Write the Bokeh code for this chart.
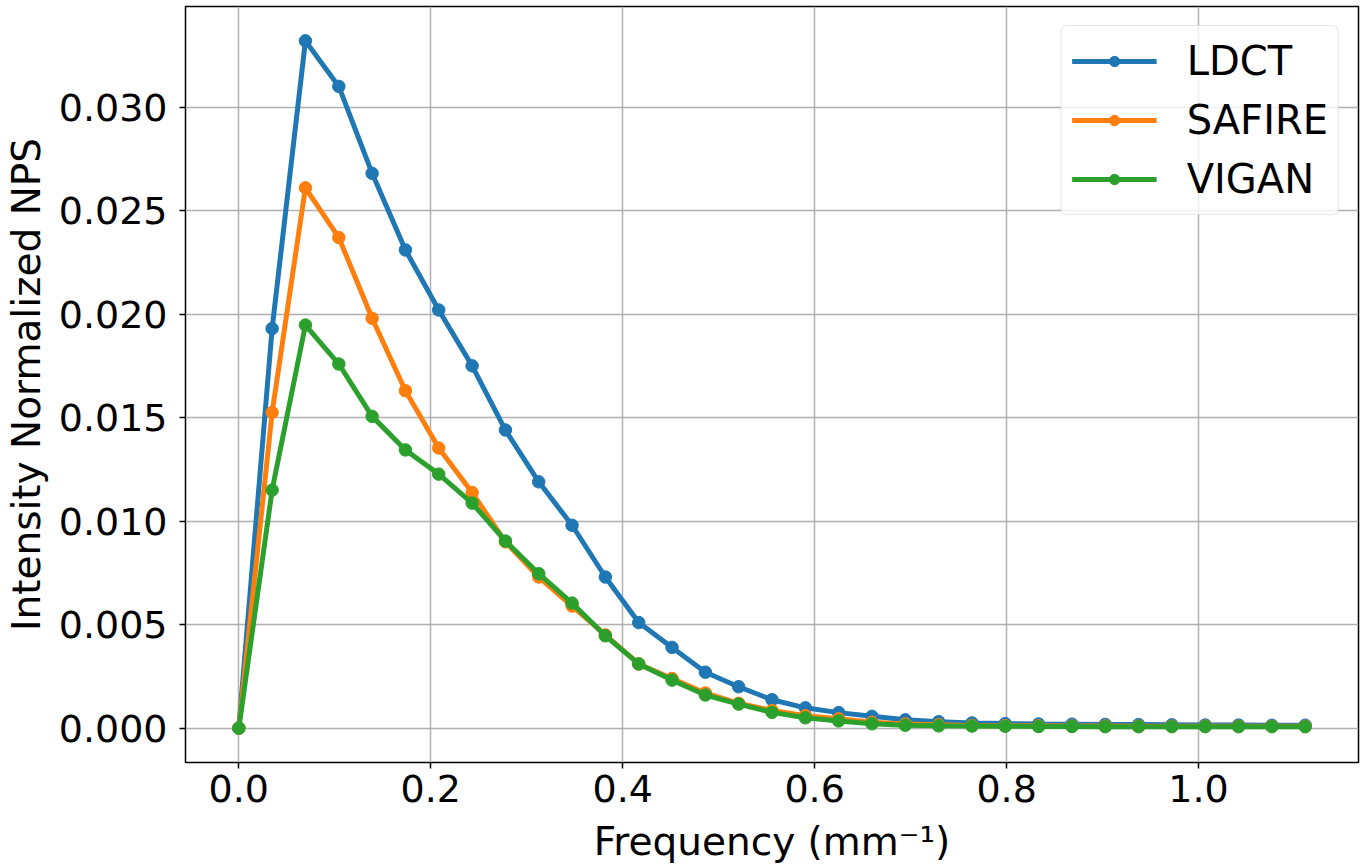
from bokeh.plotting import figure
from bokeh.models import FixedTicker, Range1d, Legend, LegendItem
from bokeh.embed import file_html
from bokeh.resources import INLINE

freq = [0.0, 0.0347, 0.0694, 0.1042, 0.1389, 0.1736, 0.2083, 0.2431, 0.2778, 0.3125,
        0.3472, 0.3819, 0.4167, 0.4514, 0.4861, 0.5208, 0.5556, 0.5903, 0.625, 0.6597,
        0.6944, 0.7292, 0.7639, 0.7986, 0.8333, 0.8681, 0.9028, 0.9375, 0.9722, 1.0069,
        1.0417, 1.0764, 1.1111]
ldct = [0.0, 0.0193, 0.0332, 0.0310, 0.0268, 0.0231, 0.0202, 0.0175, 0.0144, 0.0119,
        0.0098, 0.0073, 0.0051, 0.0039, 0.0027, 0.0020, 0.00137, 0.00098, 0.00075, 0.00057,
        0.00040, 0.00031, 0.00025, 0.00022, 0.00020, 0.00019, 0.00018, 0.00017, 0.00016,
        0.00015, 0.00015, 0.00014, 0.00014]
safire = [0.0, 0.01525, 0.0261, 0.0237, 0.0198, 0.0163, 0.01353, 0.01138, 0.0090, 0.0073,
          0.0059, 0.0045, 0.0031, 0.0024, 0.0017, 0.0012, 0.00085, 0.0006, 0.00045, 0.00028,
          0.0002, 0.00016, 0.00013, 0.00012, 0.00011, 0.0001, 0.0001, 0.00009, 0.00009,
          0.00009, 0.00009, 0.00009, 0.00009]
vigan = [0.0, 0.0115, 0.01947, 0.01759, 0.01506, 0.01344, 0.01227, 0.01087, 0.00904, 0.00746,
         0.00604, 0.00446, 0.0031, 0.00232, 0.0016, 0.00116, 0.00076, 0.0005, 0.00035, 0.00021,
         0.00014, 0.00011, 0.0001, 0.00009, 0.00008, 0.00008, 0.00007, 0.00007, 0.00007,
         0.00007, 0.00007, 0.00007, 0.00007]

series_names = ["LDCT", "SAFIRE", "VIGAN"]
series_colors = ["#1f77b4", "#ff7f0e", "#2ca02c"]

x_ticks = [0.0, 0.2, 0.4, 0.6, 0.8, 1.0]
x_tick_labels = ["0.0", "0.2", "0.4", "0.6", "0.8", "1.0"]
y_ticks = [0.0, 0.005, 0.010, 0.015, 0.020, 0.025, 0.030]
y_tick_labels = ["0.000", "0.005", "0.010", "0.015", "0.020", "0.025", "0.030"]

FONT = "DejaVu Sans"

xmin, xmax = min(freq), max(freq)
ymax = max(max(ldct), max(safire), max(vigan))
ymin = 0.0
xpad = 0.05 * (xmax - xmin)
ypad = 0.05 * (ymax - ymin)

p = figure(frame_width=1173, frame_height=756,
           x_range=Range1d(xmin - xpad, xmax + xpad),
           y_range=Range1d(ymin - ypad, ymax + ypad),
           output_backend="svg", toolbar_location=None,
           min_border_left=179, min_border_right=4, min_border_top=6, min_border_bottom=90)

items = []
for data, name, color in zip([ldct, safire, vigan], series_names, series_colors):
    r_line = p.line(freq, data, line_color=color, line_width=5)
    r_pts = p.scatter(freq, data, fill_color=color, line_color=color, size=12.5)
    items.append(LegendItem(label=name, renderers=[r_line, r_pts]))

p.outline_line_color = "black"
p.outline_line_width = 1.5
p.background_fill_color = "white"
p.border_fill_color = "white"

for ax in (p.xaxis[0], p.yaxis[0]):
    ax.axis_line_color = None
    ax.major_tick_out = 6
    ax.major_tick_in = 0
    ax.major_tick_line_width = 1.5
    ax.major_tick_line_color = "black"
    ax.minor_tick_line_color = None
    ax.major_label_text_font = FONT
    ax.major_label_text_font_size = "38px"
    ax.major_label_text_color = "black"
    ax.axis_label_text_font = FONT
    ax.axis_label_text_font_size = "39px"
    ax.axis_label_text_font_style = "normal"
    ax.axis_label_text_color = "black"

p.xaxis[0].ticker = FixedTicker(ticks=x_ticks)
p.xaxis[0].major_label_overrides = dict(zip(x_ticks, x_tick_labels))
p.yaxis[0].ticker = FixedTicker(ticks=y_ticks)
p.yaxis[0].major_label_overrides = dict(zip(y_ticks, y_tick_labels))
p.xaxis[0].axis_label = "Frequency (mm\u207b\u00b9)"
p.yaxis[0].axis_label = "Intensity Normalized NPS"
p.xaxis[0].major_label_standoff = 6
p.yaxis[0].major_label_standoff = 12
p.xaxis[0].axis_label_standoff = 14
p.yaxis[0].axis_label_standoff = 7

p.xgrid.grid_line_color = "#b0b0b0"
p.ygrid.grid_line_color = "#b0b0b0"
p.xgrid.grid_line_width = 1.5
p.ygrid.grid_line_width = 1.5

lg = Legend(items=items)
lg.location = "top_right"
lg.margin = 19
lg.padding = 10
lg.spacing = 9
lg.glyph_width = 85
lg.glyph_height = 26
lg.label_height = 50
lg.label_standoff = 30
lg.label_text_font = FONT
lg.label_text_font_size = "40px"
lg.label_text_color = "black"
lg.border_line_color = "#cccccc"
lg.border_line_width = 1.5
lg.border_radius = 6
lg.background_fill_color = "white"
lg.background_fill_alpha = 0.8
p.add_layout(lg, "center")

open("out.html", "w").write(file_html(p, INLINE))
